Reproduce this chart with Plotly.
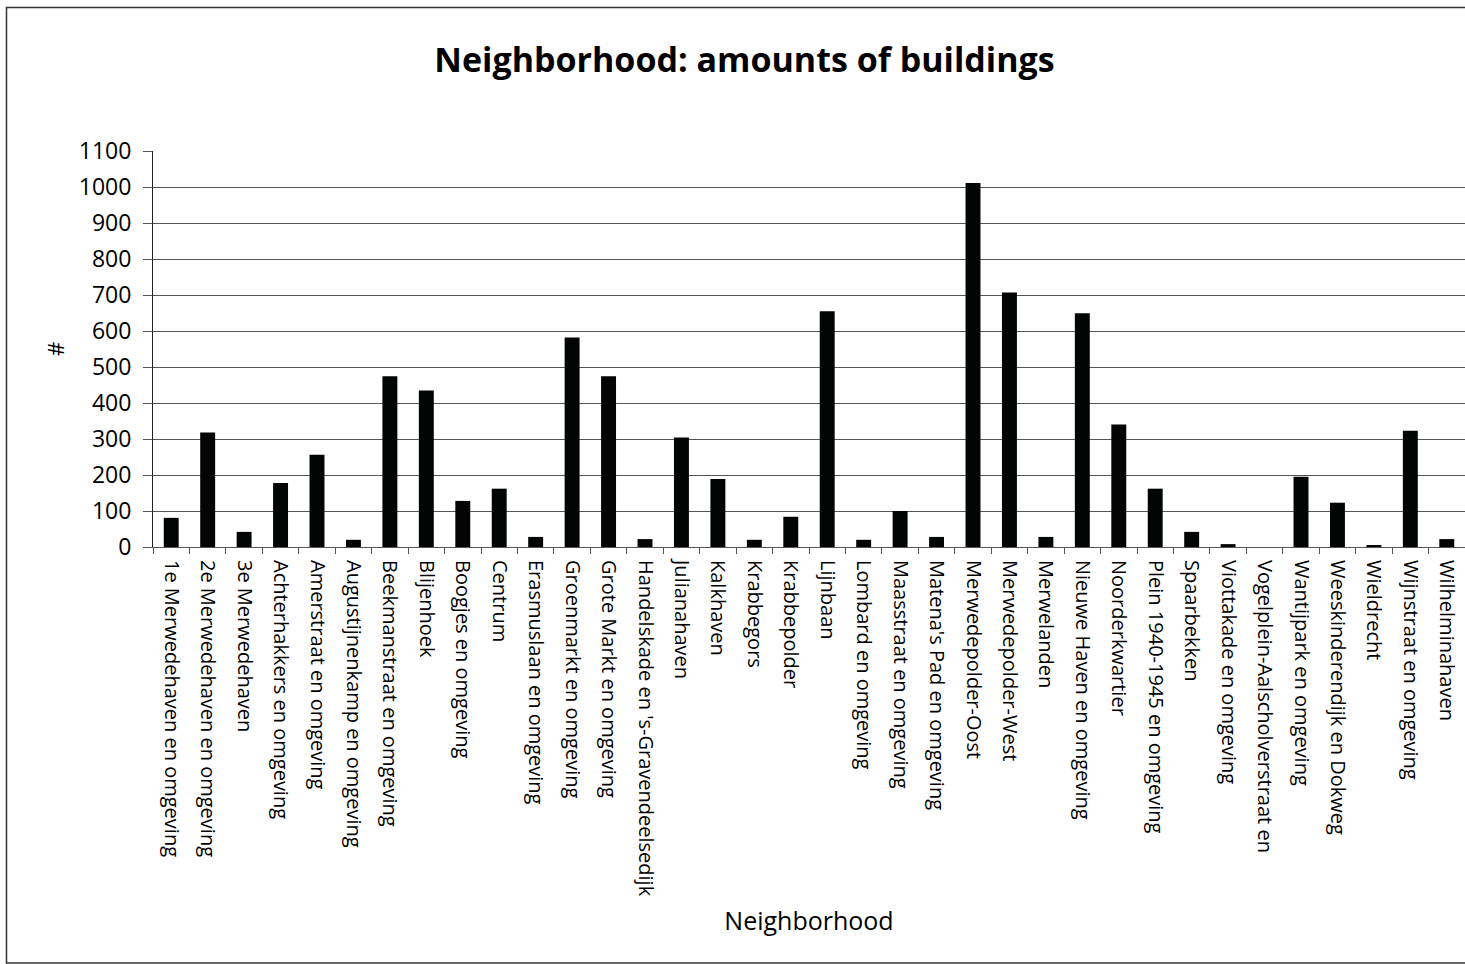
import plotly.graph_objects as go

neighborhoods = [
    "1e Merwedehaven en omgeving", "2e Merwedehaven en omgeving", "3e Merwedehaven",
    "Achterhakkers en omgeving", "Amerstraat en omgeving", "Augustijnenkamp en omgeving",
    "Beekmanstraat en omgeving", "Blijenhoek", "Boogjes en omgeving", "Centrum",
    "Erasmuslaan en omgeving", "Groenmarkt en omgeving", "Grote Markt en omgeving",
    "Handelskade en 's-Gravendeelsedijk", "Julianahaven", "Kalkhaven", "Krabbegors",
    "Krabbepolder", "Lijnbaan", "Lombard en omgeving", "Maasstraat en omgeving",
    "Matena's Pad en omgeving", "Merwedepolder-Oost", "Merwedepolder-West", "Merwelanden",
    "Nieuwe Haven en omgeving", "Noorderkwartier", "Plein 1940-1945 en omgeving",
    "Spaarbekken", "Viottakade en omgeving", "Vogelplein-Aalscholverstraat en",
    "Wantijpark en omgeving", "Weeskinderendijk en Dokweg", "Wieldrecht",
    "Wijnstraat en omgeving", "Wilhelminahaven",
]
buildings = [
    81, 318, 42, 178, 256, 20, 474, 435, 128, 162,
    28, 582, 474, 22, 304, 189, 20, 84, 655, 20,
    100, 28, 1011, 707, 28, 649, 340, 162, 42, 8,
    0, 195, 123, 3, 323, 22,
]
y_ticks = list(range(0, 1101, 100))

W, H = 1465, 964
L, R, T, B = 153, 0, 151, 417

FONT = "Open Sans"

fig = go.Figure(go.Bar(
    x=neighborhoods, y=buildings,
    marker=dict(color="#030504", line=dict(width=0)),
))

fig.update_layout(
    width=W, height=H,
    margin=dict(l=L, r=R, t=T, b=B),
    paper_bgcolor="white", plot_bgcolor="white",
    bargap=0.59,
    showlegend=False,
    font=dict(family=FONT, color="black"),
    title=dict(
        text="<b>Neighborhood: amounts of buildings</b>",
        font=dict(family=FONT, size=34, color="black"),
        x=744.5 / W, xanchor="center", xref="container",
        y=1 - 60 / H, yanchor="middle", yref="container",
    ),
)

fig.update_xaxes(
    type="category",
    tickangle=90,
    tickfont=dict(family=FONT, size=20, color="black"),
    tickson="boundaries",
    ticks="outside", ticklen=6, tickcolor="#555",
    ticklabelstandoff=8,
    showline=True, linecolor="#555", linewidth=1,
    showgrid=False,
    title=dict(text="Neighborhood", font=dict(family=FONT, size=25, color="black"), standoff=16),
    fixedrange=True,
)
fig.update_yaxes(
    range=[0, 1100],
    tickvals=y_ticks,
    tickfont=dict(family=FONT, size=23, color="black"),
    ticks="outside", ticklen=9, tickcolor="#555",
    ticklabelstandoff=7,
    showline=True, linecolor="#222", linewidth=1,
    showgrid=True, gridcolor="#555", gridwidth=1,
    zeroline=False,
    title=dict(text="#", font=dict(family=FONT, size=22, color="black"), standoff=8),
    fixedrange=True,
)

# outer chart border
fig.add_shape(
    type="rect", xref="paper", yref="paper",
    x0=(6.5 - L) / (W - L - R), x1=(W + 20 - L) / (W - L - R),
    y0=(H - B - 963) / (H - T - B), y1=(H - B - 7.5) / (H - T - B),
    line=dict(color="#333", width=1.5), fillcolor="rgba(0,0,0,0)", layer="below",
)

fig.write_html(
    "out.html",
    config={"displayModeBar": False},
    post_script="document.body.style.margin='0';",
)
